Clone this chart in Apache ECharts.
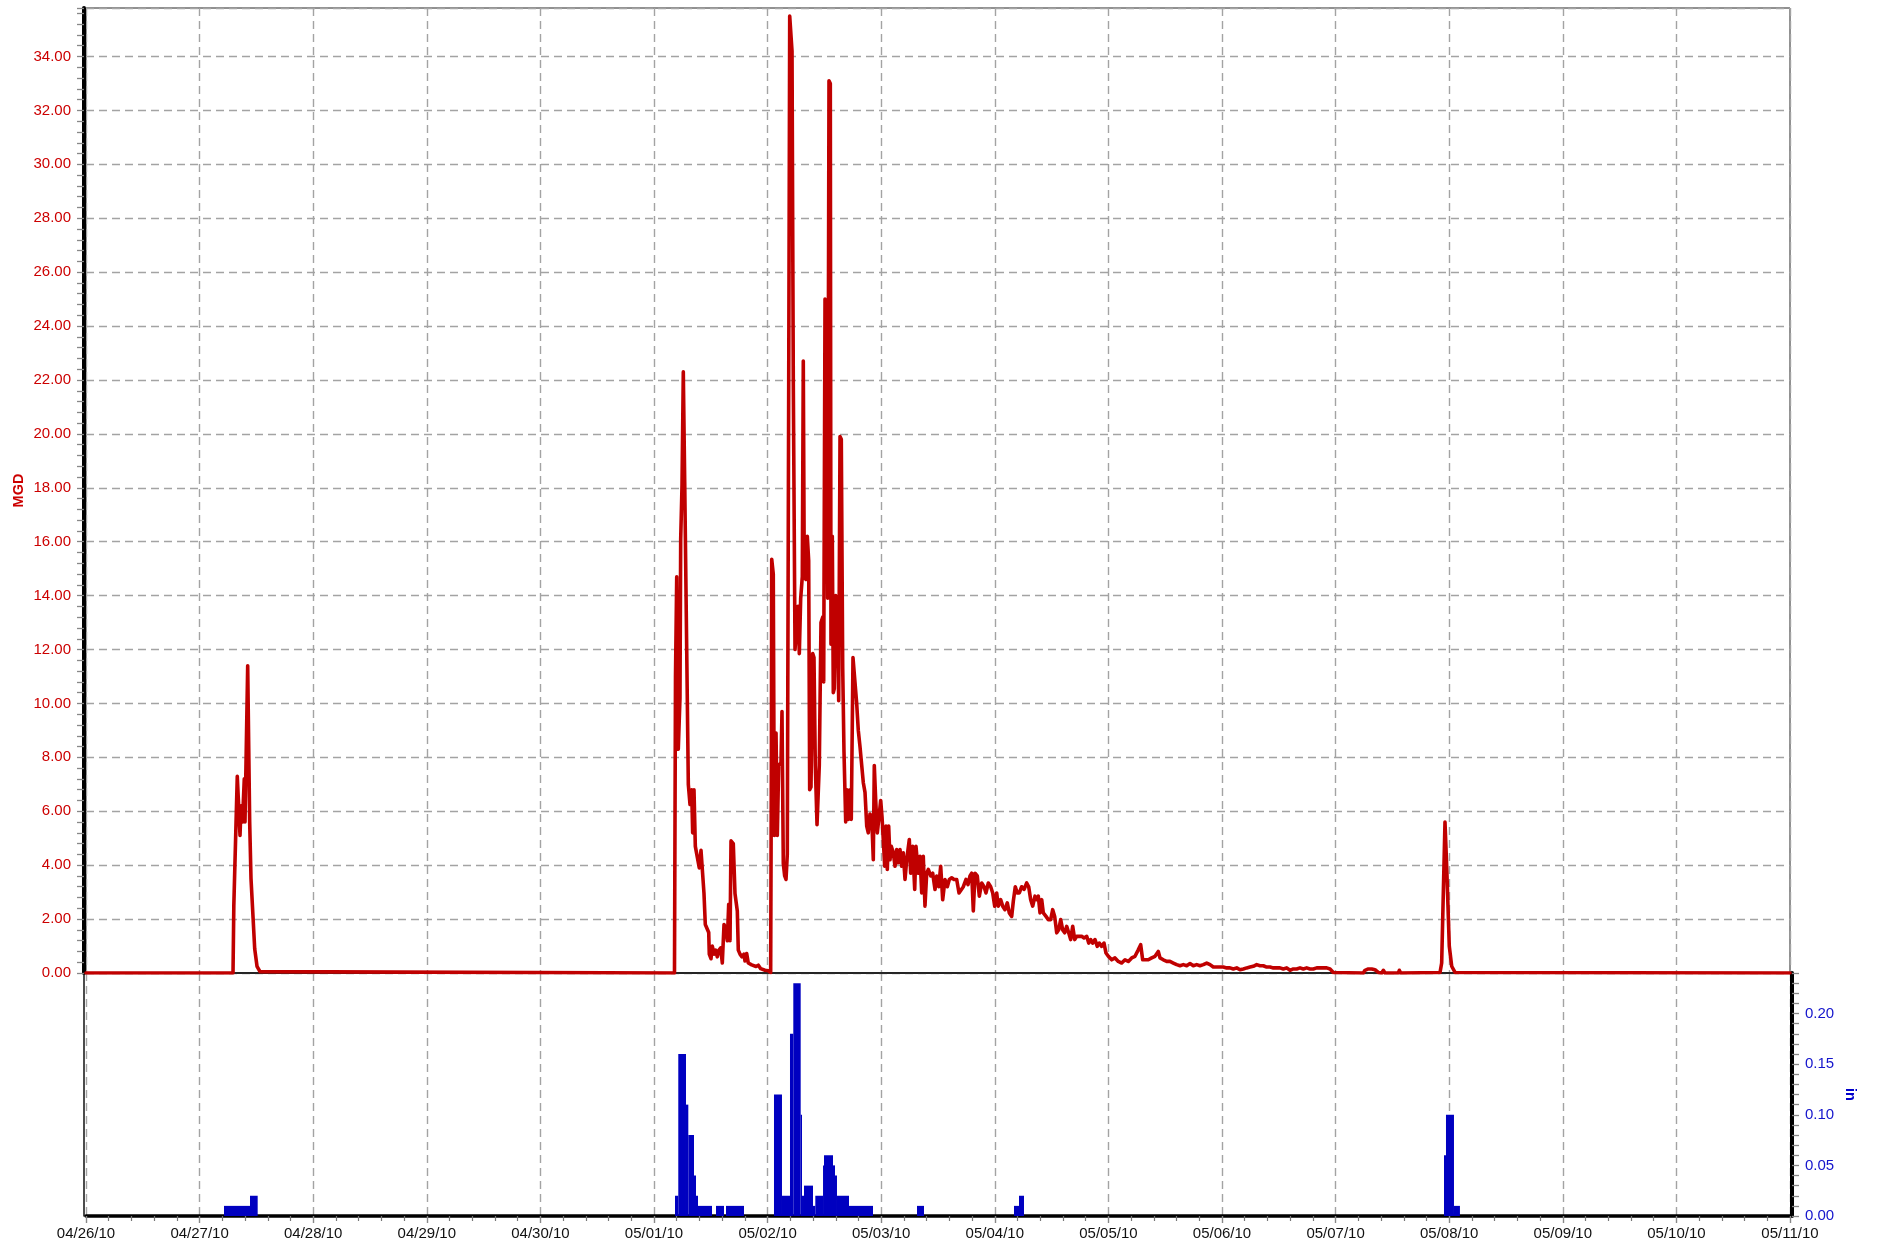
<!DOCTYPE html>
<html>
<head>
<meta charset="utf-8">
<title>Flow and Rainfall</title>
<script src="https://cdn.jsdelivr.net/npm/echarts@6/dist/echarts.min.js"></script>
<style>
  html, body { margin: 0; padding: 0; background: #fff; }
  #chart { width: 1877px; height: 1248px; }
</style>
</head>
<body>
<div id="chart"></div>
<script>
// Time is counted in hours from 04/26/10 00:00.
const startDateUTC = Date.UTC(2010, 3, 26);
const axisHours = [0, 360];
const dayHours = 24;

// Flow (MGD)
const flowHours = [
  0, 31.06, 31.23, 31.96, 32.54, 32.75, 33.06, 33.44, 33.59, 34.16, 34.58, 34.86, 35.64, 36.13, 36.76, 37.18,
  124.33, 124.54, 124.80, 125.13, 125.49, 125.64, 125.92, 126.19, 126.49, 126.91, 127.25, 127.61, 127.96, 128.17,
  128.45, 128.73, 129.15, 129.57, 129.93, 130.29, 130.56, 130.84, 131.26, 131.56, 131.68, 132.04, 132.32, 132.68,
  133.04, 133.37, 133.73, 134.09, 134.43, 134.79, 135.15, 135.49, 135.78, 136.06, 136.27, 136.75, 137.11, 137.60,
  137.81, 138.17, 138.59, 139.01, 139.22, 139.58, 139.92, 140.64, 141.55, 142.04, 142.54, 143.45, 144.15, 144.65,
  144.80, 144.87, 145.20, 145.42, 145.78, 146.05, 146.34, 146.83, 147.04, 147.32, 147.61, 147.89, 148.16, 148.46,
  148.67, 149.16, 149.43, 149.79, 150.15, 150.42, 150.70, 150.99, 151.33, 151.54, 151.75, 152.11, 152.39, 152.68,
  152.89, 153.17, 153.53, 153.80, 154.08, 154.44, 154.71, 154.92, 155.28, 155.64, 155.85, 156.13, 156.48, 156.70,
  156.97, 157.25, 157.39, 157.67, 157.88, 158.09, 158.39, 158.72, 159.02, 159.30, 159.57, 159.87, 160.14, 160.50,
  160.77, 161.05, 161.41, 161.68, 162.04, 162.40, 162.82, 163.16, 163.52, 164.22, 164.58, 164.94, 165.27, 165.63,
  165.99, 166.33, 166.54, 166.84, 167.18, 167.60, 167.89, 168.17, 168.44, 168.74, 169.01, 169.29, 169.58, 169.86,
  170.13, 170.56, 170.92, 171.27, 171.61, 171.97, 172.33, 172.67, 173.03, 173.39, 173.94, 174.23, 174.65, 175.08,
  175.35, 175.84, 176.20, 176.56, 176.89, 177.25, 177.61, 177.95, 178.46, 178.88, 179.37, 179.72, 180.15, 180.57,
  180.99, 181.48, 181.97, 182.39, 182.89, 183.38, 183.95, 184.44, 184.86, 185.35, 185.92, 186.34, 186.76, 187.12,
  187.46, 187.82, 188.30, 188.73, 189.23, 189.72, 190.14, 190.63, 191.13, 191.56, 191.98, 192.40, 192.74, 193.25,
  193.67, 194.15, 194.64, 195.06, 195.57, 195.91, 196.33, 196.75, 197.18, 197.68, 198.17, 198.74, 199.16, 199.58,
  200.01, 200.49, 200.85, 201.19, 201.55, 201.91, 202.25, 202.82, 203.30, 203.81, 204.23, 204.65, 205.08, 205.50,
  205.92, 206.34, 206.77, 207.19, 207.61, 208.03, 208.46, 208.88, 209.30, 209.85, 210.36, 210.85, 211.42, 211.84,
  212.26, 212.68, 213.17, 213.65, 214.08, 214.58, 215.07, 215.49, 215.98, 216.70, 217.39, 218.09, 218.81, 219.51,
  220.21, 220.92, 221.62, 222.31, 222.82, 223.24, 223.73, 224.43, 225.15, 225.85, 226.54, 226.90, 227.60, 228.32,
  229.01, 229.71, 230.43, 231.13, 231.83, 232.54, 233.24, 233.94, 234.65, 235.35, 236.05, 236.77, 237.47, 238.16,
  238.88, 239.58, 240.28, 240.99, 241.69, 242.39, 243.11, 243.80, 244.50, 245.22, 245.92, 246.61, 247.33, 248.03,
  248.73, 249.44, 250.14, 250.84, 251.56, 252.25, 252.95, 253.67, 254.37, 255.06, 255.78, 256.48, 257.18, 257.89,
  258.59, 259.29, 260.01, 260.70, 261.40, 262.12, 262.82, 263.52, 263.87,
  269.85, 270.21, 270.91, 271.63, 272.32, 273.02, 273.74, 274.08, 274.44, 277.25, 277.46, 277.76,
  286.06, 286.41, 287.11, 287.47, 288.02, 288.53, 289.23, 289.44, 360
];
const flowMGD = [
  0, 0, 2.5, 7.3, 5.1, 6.2, 5.6, 7.2, 5.6, 11.4, 5.6, 3.5, 0.9, 0.25, 0.05, 0,
  0, 11.0, 14.7, 8.3, 10.2, 16.1, 18.1, 22.3, 18.2, 12.0, 7.0, 6.25, 6.8, 5.2,
  6.8, 4.7, 4.7, 3.9, 4.55, 4.55, 2.95, 1.8, 1.8, 1.5, 0.7, 0.53, 1.0, 0.7,
  0.85, 0.6, 0.85, 0.93, 0.37, 1.8, 1.65, 1.2, 2.55, 1.2, 4.9, 4.8, 2.95, 2.3,
  0.85, 0.7, 0.6, 0.7, 0.45, 0.72, 0.37, 0.3, 0.24, 0.29, 0.16, 0.1, 0.08, 0.02,
  8.0, 15.35, 14.8, 5.1, 8.9, 5.1, 7.7, 7.8, 9.7, 4.06, 3.6, 3.47, 4.4, 21.9,
  35.5, 34.2, 21.9, 12.0, 12.0, 13.6, 11.85, 13.9, 14.7, 22.7, 14.7, 14.6, 16.2, 15.3,
  6.8, 6.9, 11.85, 11.7, 7.7, 5.5, 5.5, 7.7, 13.0, 13.2, 10.8, 25.0, 23.8, 13.9,
  33.1, 33.0, 12.2, 16.2, 10.4, 10.55, 14.0, 13.9, 10.1, 19.9, 19.8, 11.3, 8.2, 5.6,
  6.8, 5.7, 6.8, 5.7, 11.7, 11.7, 10.0, 9.0, 8.4, 7.06, 6.7, 5.45, 5.2, 5.9,
  5.8, 4.2, 7.7, 6.4, 5.2, 5.9, 6.4, 5.8, 4.95, 3.96, 5.45, 3.84, 5.45, 4.2,
  4.7, 4.46, 3.96, 4.58, 4.09, 4.58, 3.96, 4.46, 3.47, 4.2, 4.95, 3.7, 4.7, 3.1,
  4.7, 3.7, 4.33, 2.97, 4.33, 2.48, 3.7, 3.84, 3.6, 3.7, 3.1, 3.6, 3.2, 3.96,
  2.72, 3.47, 3.2, 3.47, 3.53, 3.47, 3.47, 2.97, 2.97, 3.2, 3.47, 3.28, 3.6, 3.7,
  2.3, 3.7, 3.6, 2.85, 3.34, 3.2, 2.97, 3.34, 3.2, 2.97, 2.48, 2.97, 2.48, 2.72,
  2.48, 2.35, 2.6, 2.23, 2.1, 2.66, 3.2, 2.97, 2.97, 3.2, 3.1, 3.34, 3.2, 2.72,
  2.48, 2.85, 2.72, 2.85, 2.23, 2.72, 2.23, 2.1, 1.98, 1.98, 2.35, 2.1, 1.49, 1.6,
  1.98, 1.6, 1.49, 1.73, 1.49, 1.24, 1.73, 1.24, 1.36, 1.36, 1.36, 1.3, 1.36, 1.11,
  1.24, 1.11, 1.24, 0.99, 1.11, 0.99, 1.11, 0.74, 0.62, 0.49, 0.56, 0.43, 0.37, 0.49,
  0.43, 0.56, 0.62, 0.86, 1.05, 0.49, 0.49, 0.49, 0.56, 0.62, 0.8, 0.56, 0.49, 0.43,
  0.43, 0.37, 0.31, 0.27, 0.31, 0.27, 0.35, 0.27, 0.31, 0.27, 0.31, 0.37, 0.31, 0.22,
  0.22, 0.22, 0.22, 0.19, 0.19, 0.15, 0.19, 0.12, 0.15, 0.19, 0.22, 0.25, 0.31, 0.27,
  0.27, 0.22, 0.22, 0.19, 0.19, 0.19, 0.15, 0.19, 0.1, 0.15, 0.15, 0.19, 0.15, 0.19,
  0.15, 0.15, 0.19, 0.19, 0.19, 0.19, 0.15, 0.02, 0,
  0, 0.1, 0.15, 0.15, 0.12, 0.02, 0, 0.1, 0, 0, 0.1, 0,
  0.02, 0.37, 5.6, 3.95, 0.99, 0.25, 0.02, 0, 0
];

// Rainfall (in), each block spans rainStartHr..rainEndHr
const rainStartHr = [
  29.15, 34.65,
  124.43, 125.13, 126.76, 127.25, 128.45, 128.87, 129.29, 133.10, 135.21,
  145.35, 147.04, 148.73, 149.43, 150.99, 151.27, 151.69, 153.59, 154.08, 155.71, 155.92, 157.82, 158.24, 158.66, 161.20,
  175.56,
  196.06, 197.11,
  286.90, 287.32, 289.01
];
const rainEndHr = [
  34.65, 36.27,
  125.13, 126.76, 127.25, 128.45, 128.87, 129.29, 132.25, 134.79, 139.01,
  147.04, 148.73, 149.43, 150.99, 151.27, 151.69, 153.59, 154.08, 155.71, 155.92, 157.82, 158.24, 158.66, 161.20, 166.27,
  177.04,
  197.11, 198.17,
  287.32, 289.01, 290.27
];
const rainInches = [
  0.01, 0.02,
  0.02, 0.16, 0.11, 0.08, 0.04, 0.02, 0.01, 0.01, 0.01,
  0.12, 0.02, 0.18, 0.23, 0.10, 0.02, 0.03, 0.01, 0.02, 0.05, 0.06, 0.05, 0.04, 0.02, 0.01,
  0.01,
  0.01, 0.02,
  0.06, 0.10, 0.01
];

const flowRange = [0, 35.8];
const rainRange = [0, 0.24];

const FONT = "'Liberation Sans', Arial, sans-serif";
const RED = '#c00000';
const BLUE = '#0000c0';
const GRID_DASH = { color: '#a3a3a3', width: 1.4, type: [8, 5] };

function pad(n) { return n < 10 ? '0' + n : '' + n; }
function dateLabel(h) {
  const d = new Date(startDateUTC + h * 3600 * 1000);
  return pad(d.getUTCMonth() + 1) + '/' + pad(d.getUTCDate()) + '/' + pad(d.getUTCFullYear() % 100);
}
function onStep(v, step, digits) {
  const k = v / step;
  return Math.abs(k - Math.round(k)) < 1e-6 ? v.toFixed(digits) : '';
}

const chart = echarts.init(document.getElementById('chart'), null, { renderer: 'canvas' });

const option = {
  animation: false,
  backgroundColor: '#ffffff',
  textStyle: { fontFamily: FONT },
  grid: [
    { left: 86, width: 1704, top: 8, height: 965, show: true, borderColor: '#222', borderWidth: 1, backgroundColor: 'transparent' },
    { left: 86, width: 1704, top: 973, height: 243 }
  ],
  xAxis: [
    {
      type: 'value', gridIndex: 0, min: axisHours[0], max: axisHours[1], interval: dayHours,
      axisLine: { show: true, lineStyle: { color: '#000', width: 1.5 } },
      axisTick: { show: false }, axisLabel: { show: false },
      splitLine: { show: true, lineStyle: GRID_DASH }
    },
    {
      type: 'value', gridIndex: 1, min: axisHours[0], max: axisHours[1], interval: dayHours,
      axisLine: { show: true, onZero: false, lineStyle: { color: '#000', width: 3.5 } },
      axisTick: { show: true, length: 7, lineStyle: { color: '#888', width: 1.4 } },
      minorTick: { show: true, splitNumber: 5, length: 5, lineStyle: { color: '#777', width: 1.2 } },
      axisLabel: { color: '#111', fontSize: 15, fontFamily: FONT, margin: 10, formatter: dateLabel },
      splitLine: { show: true, lineStyle: GRID_DASH }
    }
  ],
  yAxis: [
    {
      type: 'value', gridIndex: 0, position: 'left', offset: 2,
      min: flowRange[0], max: flowRange[1], interval: 2,
      name: 'MGD', nameLocation: 'middle', nameGap: 58, nameMoveOverlap: false,
      nameTextStyle: { color: '#cc0000', fontWeight: 'bold', fontSize: 14.5, fontFamily: FONT },
      axisLine: { show: true, onZero: false, lineStyle: { color: '#000', width: 4 } },
      axisTick: { show: true, length: 7, lineStyle: { color: '#888', width: 1.3 } },
      minorTick: { show: true, splitNumber: 5, length: 7, lineStyle: { color: '#888', width: 1.3 } },
      axisLabel: { color: '#cc0000', fontSize: 15, fontFamily: FONT, margin: 13, formatter: v => onStep(v, 2, 2) },
      splitLine: { show: true, lineStyle: GRID_DASH }
    },
    {
      type: 'value', gridIndex: 1, position: 'left', offset: 2,
      min: rainRange[0], max: rainRange[1],
      axisLine: { show: true, onZero: false, lineStyle: { color: '#111', width: 1.5 } },
      axisTick: { show: false }, axisLabel: { show: false }, splitLine: { show: false }
    },
    {
      type: 'value', gridIndex: 1, position: 'right', offset: 2,
      min: rainRange[0], max: rainRange[1], interval: 0.05,
      name: 'in', nameLocation: 'middle', nameGap: 50, nameRotate: -90, nameMoveOverlap: false,
      nameTextStyle: { color: '#0000cc', fontWeight: 'bold', fontSize: 14.5, fontFamily: FONT },
      axisLine: { show: true, onZero: false, lineStyle: { color: '#000', width: 4 } },
      axisTick: { show: true, length: 7, lineStyle: { color: '#888', width: 1.3 } },
      minorTick: { show: true, splitNumber: 5, length: 7, lineStyle: { color: '#888', width: 1.3 } },
      axisLabel: { color: '#1414cc', fontSize: 15, fontFamily: FONT, margin: 13, formatter: v => onStep(v, 0.05, 2) },
      splitLine: { show: false }
    }
  ],
  series: [
    {
      name: 'Flow', type: 'line', xAxisIndex: 0, yAxisIndex: 0,
      data: flowHours.map((h, i) => [h, flowMGD[i]]),
      showSymbol: false, symbol: 'none', smooth: false,
      lineStyle: { color: RED, width: 3.6, join: 'round', cap: 'round' },
      z: 5
    },
    {
      name: 'Rain', type: 'custom', xAxisIndex: 1, yAxisIndex: 2,
      data: rainStartHr.map((s, i) => [s, rainEndHr[i], rainInches[i]]),
      encode: { x: [0, 1], y: 2 },
      renderItem: function (params, api) {
        const top = api.coord([api.value(0), api.value(2)]);
        const base = api.coord([api.value(1), 0]);
        return {
          type: 'rect',
          shape: { x: top[0], y: top[1], width: base[0] - top[0], height: base[1] - top[1] },
          style: { fill: BLUE }
        };
      },
      z: 5
    }
  ]
};

chart.setOption(option);
</script>
</body>
</html>
